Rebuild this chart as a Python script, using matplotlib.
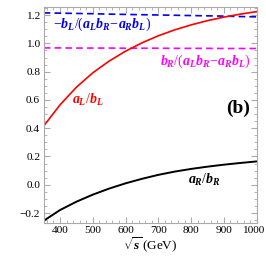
import numpy as np
import matplotlib
matplotlib.use("Agg")
from matplotlib import pyplot as plt
from matplotlib import transforms
from matplotlib.ticker import MultipleLocator

plt.rcParams['font.family'] = ['Liberation Serif', 'DejaVu Serif']
plt.rcParams['mathtext.fontset'] = 'custom'
plt.rcParams['mathtext.rm'] = 'Liberation Serif'
plt.rcParams['mathtext.it'] = 'Liberation Serif:italic:bold'
plt.rcParams['mathtext.bf'] = 'Liberation Serif:bold'

# values
sqrt_s = [350, 400, 450, 500, 550, 600, 650, 700, 750, 800, 850, 900, 950, 1000]
aL_bL = [0.415, 0.565, 0.69, 0.792, 0.875, 0.945, 1.004, 1.054, 1.096, 1.131,
         1.161, 1.186, 1.207, 1.225]
aR_bR = [-0.255, -0.179, -0.12, -0.07, -0.027, 0.01, 0.042, 0.07, 0.093, 0.112,
         0.128, 0.142, 0.154, 0.165]
mbL_det = [1.216, 1.214, 1.212, 1.210, 1.207, 1.205, 1.203, 1.201, 1.199, 1.197,
           1.195, 1.193, 1.190, 1.188]
bR_det = [0.968, 0.968, 0.967, 0.967, 0.967, 0.966, 0.966, 0.966, 0.965, 0.965,
          0.965, 0.964, 0.964, 0.964]
xticks = [400, 500, 600, 700, 800, 900, 1000]
yticks = [-0.2, 0.0, 0.2, 0.4, 0.6, 0.8, 1.0, 1.2]
ytick_labels = ['\u22120.2', '0.0', '0.2', '0.4', '0.6', '0.8', '1.0', '1.2']

fig = plt.figure(figsize=(2.66, 2.66), dpi=100)
ax = fig.add_axes([0.164, 0.162, 0.801, 0.813])

ax.plot(sqrt_s, mbL_det, color='#0000ee', ls=(0, (4, 2.5)), lw=1.2)
ax.plot(sqrt_s, bR_det, color='#ff00ff', ls=(0, (4, 2.5)), lw=1.2)
ax.plot(sqrt_s, aL_bL, color='#ff0000', lw=1.2)
ax.plot(sqrt_s, aR_bR, color='black', lw=1.4)

ax.set_xlim(350, 1000)
ax.set_ylim(-0.27, 1.26)
ax.set_xticks(xticks)
ax.xaxis.set_minor_locator(MultipleLocator(20))
ax.yaxis.set_minor_locator(MultipleLocator(0.05))
ax.set_yticks(yticks)
ax.set_yticklabels(ytick_labels)
ax.tick_params(which='both', direction='in', top=True, right=True,
               color='#aaaaaa', labelsize=8.2, pad=2.5)
ax.tick_params(which='major', length=4)
ax.tick_params(which='minor', length=2)
for sp in ax.spines.values():
    sp.set_color('#aaaaaa')
    sp.set_linewidth(0.8)

# nudge "1000" a bit left so it stays inside the picture
last = ax.get_xticklabels()[-1]
last.set_transform(last.get_transform() +
                   transforms.ScaledTranslation(-4 / 100, 0, fig.dpi_scale_trans))

ax.set_xlabel(r'$\sqrt{s}\,$(GeV)', fontsize=9.5, labelpad=0)

ax.text(528, 1.136, r'$-b_L/(a_Lb_R\!-\!a_Rb_L)$', color='#0000ee',
        fontsize=10, ha='center', va='center')
ax.text(842, 0.87, r'$b_R/(a_Lb_R\!-\!a_Rb_L)$', color='#ff00ff',
        fontsize=10, ha='center', va='center')
ax.text(484, 0.60, r'$a_L/b_L$', color='#ff0000', fontsize=10,
        ha='center', va='center')
ax.text(839, 0.035, r'$a_R/b_R$', color='black', fontsize=10,
        ha='center', va='center')
ax.text(942, 0.542, '(b)', fontsize=14, fontweight='bold',
        ha='center', va='center')

fig.savefig('out.png', dpi=100)
